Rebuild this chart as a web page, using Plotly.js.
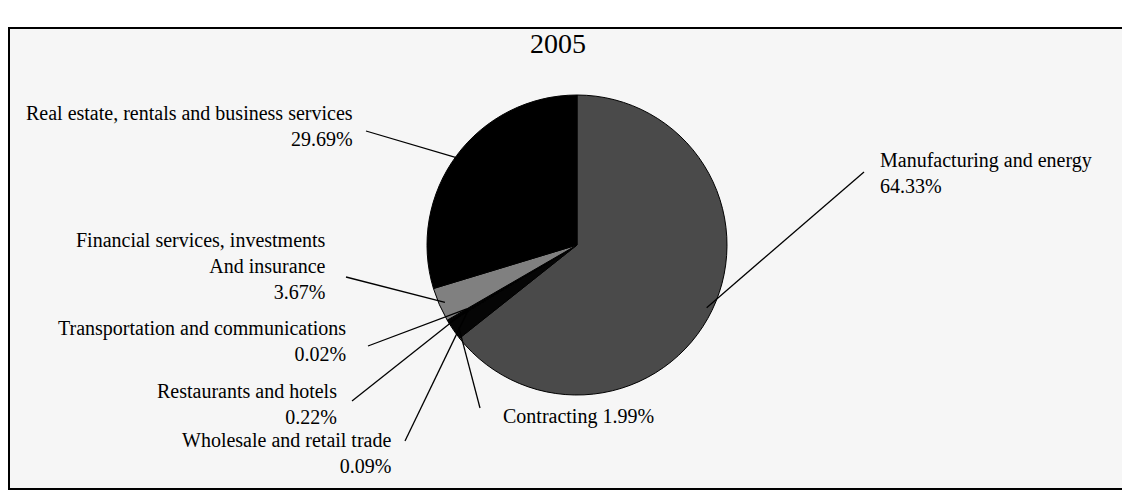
<!DOCTYPE html>
<html>
<head>
<meta charset="utf-8">
<script src="https://cdn.plot.ly/plotly-3.0.1.min.js"></script>
<style>html,body{margin:0;padding:0;background:#fff;}#chart{width:1122px;height:492px;}</style>
</head>
<body>
<div id="chart"></div>
<script>
// ---- data ----
const chartTitle = "2005";
const categories = [
  "Manufacturing and energy",
  "Contracting",
  "Wholesale and retail trade",
  "Restaurants and hotels",
  "Transportation and communications",
  "Financial services, investments<br>And insurance",
  "Real estate, rentals and business services"
];
const shares = [64.33, 1.99, 0.09, 0.22, 0.02, 3.67, 29.69];
const sliceColors = ["#4a4a4a", "#050505", "#050505", "#050505", "#050505", "#808080", "#000000"];

// ---- layout helpers (pixel positions of label boxes and leader-line ends, not data) ----
const W = 1122, H = 492;
const cx = 577, cy = 245, R = 150;
const labelCenters = [
  [986, 173],   // Manufacturing
  [578, 416],   // Contracting
  [286, 453],   // Wholesale
  [247, 404],   // Restaurants
  [202, 341],   // Transportation
  [201, 266],   // Financial
  [189, 126]    // Real estate
];
const leaderEnds = [
  [864, 172],
  [480, 408],
  [405, 441],
  [352, 401],
  [368, 346],
  [346, 277],
  [366, 131]
];
const labelAlign = ["left", "left", "right", "right", "right", "right", "right"];
const singleLine = [false, true, false, false, false, false, false];
const fontFamily = "Liberation Serif, Times New Roman, serif";

const total = shares.reduce((a, b) => a + b, 0);
const annotations = [{
  text: chartTitle, x: 558 / W, y: 1 - 43 / H, xref: "paper", yref: "paper",
  xanchor: "center", yanchor: "middle",
  showarrow: false, font: {family: fontFamily, size: 28, color: "#000"}
}];
const shapes = [{
  type: "rect", xref: "paper", yref: "paper",
  x0: 9 / W, x1: 1.01, y0: 1 - 489 / H, y1: 1 - 28 / H,
  line: {color: "#000", width: 2}, fillcolor: "#f6f6f6", layer: "below"
}];
let cum = 0;
shares.forEach((v, i) => {
  const theta = 2 * Math.PI * (cum + v / 2) / total;
  cum += v;
  const rr = (v < 1) ? 0.85 : 0.96;
  const tx = cx + R * rr * Math.sin(theta);
  const ty = cy - R * rr * Math.cos(theta);
  const pct = v.toFixed(2) + "%";
  const txt = categories[i] + (singleLine[i] ? " " : "<br>") + pct;
  annotations.push({
    text: txt, align: labelAlign[i],
    x: labelCenters[i][0] / W, y: 1 - labelCenters[i][1] / H, xref: "paper", yref: "paper",
    xanchor: "center", yanchor: "middle", showarrow: false,
    font: {family: fontFamily, size: 20, color: "#000"}
  });
  shapes.push({
    type: "line", xref: "paper", yref: "paper",
    x0: tx / W, y0: 1 - ty / H,
    x1: leaderEnds[i][0] / W, y1: 1 - leaderEnds[i][1] / H,
    line: {color: "#000", width: 1.3}, layer: "above"
  });
});

const trace = {
  type: "pie",
  labels: categories.map(c => c.replace("<br>", " ")),
  values: shares,
  sort: false,
  direction: "clockwise",
  rotation: 0,
  textinfo: "none",
  hoverinfo: "label+percent",
  marker: {colors: sliceColors, line: {color: "#000", width: 1}},
  domain: {x: [(cx - R) / W, (cx + R) / W], y: [1 - (cy + R) / H, 1 - (cy - R) / H]},
  showlegend: false
};

const layout = {
  width: W, height: H,
  margin: {l: 0, r: 0, t: 0, b: 0},
  paper_bgcolor: "#ffffff",
  plot_bgcolor: "#ffffff",
  showlegend: false,
  annotations: annotations,
  shapes: shapes
};

Plotly.newPlot("chart", [trace], layout, {displayModeBar: false, staticPlot: true});
</script>
</body>
</html>
